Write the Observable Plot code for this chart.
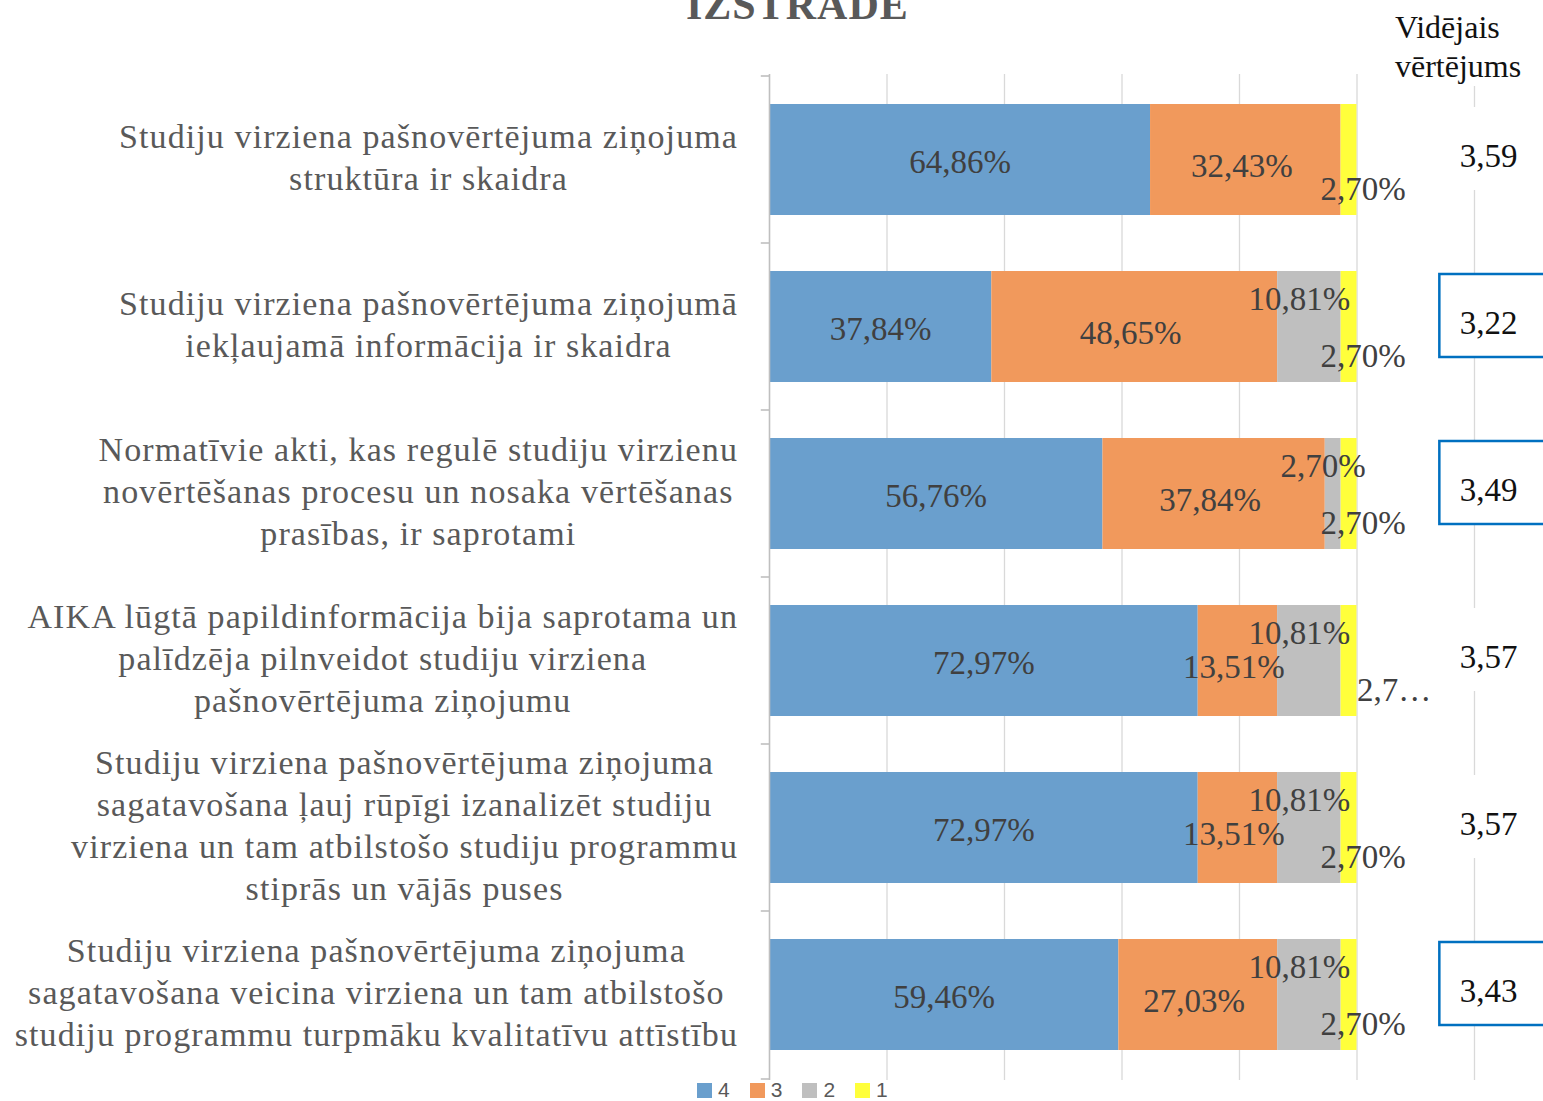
<!DOCTYPE html>
<html><head><meta charset="utf-8">
<script src="https://cdn.jsdelivr.net/npm/d3@7"></script>
<script src="https://cdn.jsdelivr.net/npm/@observablehq/plot@0.6"></script>
<style>
html,body{margin:0;padding:0;background:#fff;overflow:hidden;}
#wrap{position:relative;width:1543px;height:1101px;overflow:hidden;}
#title{position:absolute;left:686px;top:-19px;font:bold 42px "Liberation Serif",serif;color:#595959;letter-spacing:1px;}
#header{position:absolute;left:1395px;top:8px;font:32px/39px "Liberation Serif",serif;color:#111;background:#fff;white-space:pre;}
.cat{position:absolute;right:805px;transform:translateY(-50%);margin-top:-2px;font:34px/42px "Liberation Serif",serif;letter-spacing:1.1px;color:#595959;text-align:center;white-space:pre;}
#legend{position:absolute;left:697px;top:1080px;height:20px;display:flex;align-items:center;font:21px/20px "Liberation Sans",sans-serif;color:#595959;}
#legend .sw{width:15px;height:15px;margin-right:6px;}
#legend .it{display:flex;align-items:center;margin-right:20px;}
</style></head><body><div id="wrap"></div>
<script>
const chartTitle = "IZSTRĀDE";
const avgHeader = "Vidējais\nvērtējums";
const questions = [
  "Studiju virziena pašnovērtējuma ziņojuma struktūra ir skaidra",
  "Studiju virziena pašnovērtējuma ziņojumā iekļaujamā informācija ir skaidra",
  "Normatīvie akti, kas regulē studiju virzienu novērtēšanas procesu un nosaka vērtēšanas prasības, ir saprotami",
  "AIKA lūgtā papildinformācija bija saprotama un palīdzēja pilnveidot studiju virziena pašnovērtējuma ziņojumu",
  "Studiju virziena pašnovērtējuma ziņojuma sagatavošana ļauj rūpīgi izanalizēt studiju virziena un tam atbilstošo studiju programmu stiprās un vājās puses",
  "Studiju virziena pašnovērtējuma ziņojuma sagatavošana veicina virziena un tam atbilstošo studiju programmu turpmāku kvalitatīvu attīstību"
];
const questionLines = [
  "Studiju virziena pašnovērtējuma ziņojuma\nstruktūra ir skaidra",
  "Studiju virziena pašnovērtējuma ziņojumā\niekļaujamā informācija ir skaidra",
  "Normatīvie akti, kas regulē studiju virzienu\nnovērtēšanas procesu un nosaka vērtēšanas\nprasības, ir saprotami",
  "AIKA lūgtā papildinformācija bija saprotama un\npalīdzēja pilnveidot studiju virziena\npašnovērtējuma ziņojumu",
  "Studiju virziena pašnovērtējuma ziņojuma\nsagatavošana ļauj rūpīgi izanalizēt studiju\nvirziena un tam atbilstošo studiju programmu\nstiprās un vājās puses",
  "Studiju virziena pašnovērtējuma ziņojuma\nsagatavošana veicina virziena un tam atbilstošo\nstudiju programmu turpmāku kvalitatīvu attīstību"
];
const grades = ["4", "3", "2", "1"];
const share4 = [64.86, 37.84, 56.76, 72.97, 72.97, 59.46];
const share3 = [32.43, 48.65, 37.84, 13.51, 13.51, 27.03];
const share2 = [0, 10.81, 2.70, 10.81, 10.81, 10.81];
const share1 = [2.70, 2.70, 2.70, 2.70, 2.70, 2.70];
const averages = [3.59, 3.22, 3.49, 3.57, 3.57, 3.43];
const highlighted = [false, true, true, false, false, true];
const truncatedLabel = [false, false, false, true, false, false];
const gradeColors = ["#6a9fcd", "#f1995c", "#bfbfbf", "#ffff3b"];
const gridTicks = [20, 40, 60, 80, 100, 120];

const series = [share4, share3, share2, share1];
const rows = [];
questions.forEach((q, i) => series.forEach((arr, j) =>
  rows.push({q, i, grade: grades[j], value: arr[i], trunc: truncatedLabel[i]})));
const avgRows = questions.map((q, i) => ({q, avg: averages[i], boxed: highlighted[i]}));

const comma = (v, n) => v.toFixed(n).replace(".", ",");
const pct = v => comma(v, 2) + "%";
const serif = "Liberation Serif";

function segLabels(test, text, opts) {
  return Plot.text(rows, Plot.filter(test, Plot.stackX({
    x: "value", y: "q", z: "grade", order: grades, text,
    fill: "#404040", fontFamily: serif, fontSize: 33, ...opts
  })));
}

const chart = Plot.plot({
  width: 1543, height: 1082,
  marginLeft: 769, marginRight: 69, marginTop: 74, marginBottom: 2,
  x: {domain: [0, 120], axis: null},
  y: {domain: questions, axis: null, paddingInner: 1/3, paddingOuter: 1/6},
  color: {domain: grades, range: gradeColors},
  style: {background: "white", overflow: "hidden"},
  marks: [
    Plot.gridX(gridTicks, {stroke: "#d9d9d9", strokeOpacity: 1, strokeWidth: 1.3}),
    Plot.barX(rows, {x: "value", y: "q", fill: "grade", order: grades}),
    Plot.ruleX([0], {stroke: "#bfbfbf", strokeWidth: 1.6}),
    Plot.ruleY(questions, {y: d => d, dy: -84, x1: -1.4, x2: 0, stroke: "#bfbfbf", strokeWidth: 1.6, clip: false}),
    Plot.ruleY(questions.slice(-1), {y: d => d, dy: 84, x1: -1.4, x2: 0, stroke: "#bfbfbf", strokeWidth: 1.6, clip: false}),
    segLabels(d => d.grade === "4", d => pct(d.value), {dy: 2}),
    segLabels(d => d.grade === "3", d => pct(d.value), {dx: -4, dy: 6}),
    segLabels(d => d.grade === "2" && d.value > 0, d => pct(d.value), {dx: -10, dy: -28}),
    segLabels(d => d.grade === "1" && !d.trunc, d => pct(d.value), {dx: 14, dy: 29}),
    segLabels(d => d.grade === "1" && d.trunc, d => comma(d.value, 1).slice(0, 3) + "…", {dx: 8, dy: 29, textAnchor: "start"}),
    Plot.barX(avgRows, {x1: () => 114.1, x2: () => 133, y: "q", insetTop: 3, insetBottom: 25, fill: "white"}),
    Plot.barX(avgRows.filter(d => d.boxed), {x1: () => 114.1, x2: () => 133, y: "q", insetTop: 3, insetBottom: 25,
      fill: "white", stroke: "#0070c0", strokeWidth: 2.5}),
    Plot.text(avgRows, {y: "q", text: d => comma(d.avg, 2), frameAnchor: "right", textAnchor: "middle", dx: 14, dy: -4,
      fill: "#111", fontFamily: serif, fontSize: 33})
  ]
});

const wrap = document.getElementById("wrap");
wrap.appendChild(chart);

const t = document.createElement("div"); t.id = "title"; t.textContent = chartTitle; wrap.appendChild(t);
const h = document.createElement("div"); h.id = "header"; h.textContent = avgHeader; wrap.appendChild(h);

const ys = chart.scale("y");
questions.forEach((q, i) => {
  const d = document.createElement("div");
  d.className = "cat";
  d.textContent = questionLines[i];
  d.style.top = (ys.apply(q) + ys.bandwidth / 2) + "px";
  wrap.appendChild(d);
});

const lg = document.createElement("div"); lg.id = "legend";
grades.forEach((g, j) => {
  const it = document.createElement("div"); it.className = "it";
  const sw = document.createElement("div"); sw.className = "sw"; sw.style.background = gradeColors[j];
  const tx = document.createElement("span"); tx.textContent = g;
  it.appendChild(sw); it.appendChild(tx); lg.appendChild(it);
});
wrap.appendChild(lg);
</script></body></html>
